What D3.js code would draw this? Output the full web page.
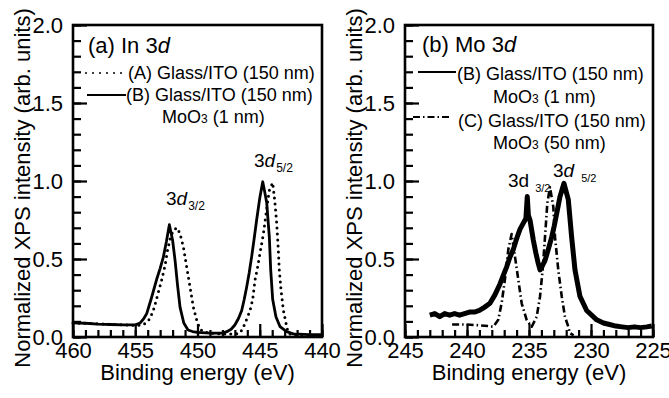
<!DOCTYPE html>
<html>
<head>
  <meta charset="utf-8">
  <title>XPS In 3d / Mo 3d</title>
  <script src="https://d3js.org/d3.v7.min.js"></script>
  <style>
    body { margin: 0; background: #fff; }
    text { font-family: "Liberation Sans", Arial, sans-serif; fill: #000; }
  </style>
</head>
<body>
<script>
// ---- data: [binding energy (eV), normalized intensity] ----
// (a) In 3d, (A) Glass/ITO
var inA = [
  [460, 0.09], [458, 0.085], [456, 0.078], [455, 0.075], [454.5, 0.075], [454.1, 0.09],
  [453.8, 0.12], [453.47, 0.19], [453.2, 0.27], [452.88, 0.365], [452.6, 0.46], [452.42, 0.55],
  [452.2, 0.63], [451.94, 0.686], [451.62, 0.70], [451.4, 0.66], [451.14, 0.58], [450.87, 0.45],
  [450.6, 0.32], [450.33, 0.19], [450.07, 0.11], [449.8, 0.05], [449.4, 0.03], [449, 0.025],
  [448, 0.02], [447, 0.02], [446.6, 0.024], [446.4, 0.05], [446.18, 0.088], [445.78, 0.17],
  [445.57, 0.24], [445.38, 0.365], [445.19, 0.44], [445.03, 0.515], [444.71, 0.66], [444.36, 0.87],
  [444.23, 0.94], [443.96, 0.99], [443.78, 0.86], [443.64, 0.73], [443.51, 0.56], [443.43, 0.43],
  [443.29, 0.30], [443.1, 0.17], [442.89, 0.088], [442.71, 0.024], [442.3, 0.01], [441, 0.01],
  [440, 0.01]
];
// (a) In 3d, (B) Glass/ITO + MoO3 1 nm
var inB = [
  [460, 0.09], [459, 0.088], [458, 0.083], [457, 0.08], [456, 0.078], [455, 0.078],
  [454.6, 0.09], [454.3, 0.12], [454.08, 0.15], [453.7, 0.25], [453.28, 0.37], [453.0, 0.44],
  [452.75, 0.51], [452.5, 0.61], [452.26, 0.72], [452.0, 0.62], [451.8, 0.49], [451.6, 0.33],
  [451.4, 0.19], [451.1, 0.09], [450.76, 0.045], [450.4, 0.035], [450.0, 0.03], [449, 0.025],
  [448, 0.025], [447.65, 0.034], [447.3, 0.05], [447.0, 0.077], [446.7, 0.12], [446.45, 0.17],
  [446.25, 0.24], [446.05, 0.32], [445.85, 0.41], [445.65, 0.515], [445.45, 0.63], [445.25, 0.75],
  [445.0, 0.89], [444.76, 0.995], [444.6, 0.93], [444.44, 0.86], [444.23, 0.64], [444.12, 0.43],
  [443.96, 0.24], [443.7, 0.13], [443.37, 0.066], [442.84, 0.034], [442.3, 0.02], [441, 0.015],
  [440, 0.015]
];
// (b) Mo 3d, (B) Glass/ITO + MoO3 1 nm
var moB = [
  [243.0, 0.14], [242.6, 0.15], [242.2, 0.13], [241.8, 0.15], [241.4, 0.14], [241.0, 0.15],
  [240.6, 0.14], [240.2, 0.15], [239.8, 0.16], [239.4, 0.16], [239.0, 0.17], [238.6, 0.19],
  [238.15, 0.216], [237.75, 0.27], [237.34, 0.34], [237.05, 0.40], [236.8, 0.45], [236.55, 0.51],
  [236.27, 0.56], [236.0, 0.63], [235.73, 0.69], [235.46, 0.73], [235.25, 0.76], [235.14, 0.90],
  [235.05, 0.78], [234.92, 0.75], [234.65, 0.62], [234.45, 0.54], [234.25, 0.47], [234.11, 0.43],
  [233.9, 0.46], [233.71, 0.49], [233.45, 0.56], [233.17, 0.64], [232.97, 0.71], [232.77, 0.79],
  [232.5, 0.90], [232.18, 0.985], [231.83, 0.88], [231.56, 0.64], [231.29, 0.43], [230.89, 0.26],
  [230.35, 0.17], [229.54, 0.11], [229.0, 0.09], [228.5, 0.08], [228.0, 0.07], [227.5, 0.065],
  [227, 0.06], [226.5, 0.065], [226, 0.06], [225.5, 0.065], [225.1, 0.07]
];
// (b) Mo 3d, (C) Glass/ITO + MoO3 50 nm
var moC = [
  [241.2, 0.08], [240, 0.08], [239, 0.075], [238.3, 0.07], [237.88, 0.066], [237.48, 0.11],
  [237.2, 0.22], [236.94, 0.37], [236.67, 0.56], [236.4, 0.66], [236.13, 0.515], [235.86, 0.365],
  [235.59, 0.216], [235.19, 0.11], [234.78, 0.066], [234.38, 0.13], [234.11, 0.26], [233.9, 0.43],
  [233.71, 0.64], [233.52, 0.86], [233.31, 0.96], [233.04, 0.835], [232.9, 0.64], [232.64, 0.43],
  [232.36, 0.26], [232.1, 0.13], [231.83, 0.066], [231.7, 0.025], [231.4, 0.01]
];

var yTicks = [0, 0.5, 1.0, 1.5, 2.0];
var xTicksA = [460, 455, 450, 445, 440];
var xTicksB = [245, 240, 235, 230, 225];

var width = 669, height = 398;
var plotTop = 25, plotBottom = 337;

var svg = d3.select("body").append("svg").attr("width", width).attr("height", height);

var dotted = "0 6", dashdot = "7 3 1.5 3";

function panel(opt) {
  var x = d3.scaleLinear().domain(opt.xdom).range([opt.left, opt.right]);
  var y = d3.scaleLinear().domain([0, 2]).range([plotBottom, plotTop]);
  var g = svg.append("g");

  // minor ticks
  g.append("g").attr("transform", "translate(0," + plotBottom + ")")
    .call(d3.axisBottom(x).tickValues(d3.range(d3.min(opt.xdom), d3.max(opt.xdom) + 1, 1))
      .tickSizeInner(-7).tickSizeOuter(0).tickFormat(""));
  g.append("g").attr("transform", "translate(" + opt.left + ",0)")
    .call(d3.axisLeft(y).tickValues(d3.range(0, 2.01, 0.1))
      .tickSizeInner(-8).tickSizeOuter(0).tickFormat(""));
  // major ticks + labels
  g.append("g").attr("transform", "translate(0," + plotBottom + ")")
    .call(d3.axisBottom(x).tickValues(opt.xticks).tickSizeInner(-13).tickSizeOuter(0)
      .tickPadding(5).tickFormat(d3.format("d")));
  g.append("g").attr("transform", "translate(" + opt.left + ",0)")
    .call(d3.axisLeft(y).tickValues(yTicks).tickSizeInner(-14).tickSizeOuter(0)
      .tickPadding(10).tickFormat(d3.format(".1f")));
  g.selectAll(".tick line").attr("stroke", "#000").attr("stroke-width", 2.2);
  g.selectAll(".tick text").attr("font-size", 22).attr("font-family", "Liberation Sans, Arial, sans-serif").attr("fill", "#000");
  g.selectAll(".domain").remove();

  // frame
  g.append("rect").attr("x", opt.left).attr("y", plotTop)
    .attr("width", opt.right - opt.left).attr("height", plotBottom - plotTop)
    .attr("fill", "none").attr("stroke", "#000").attr("stroke-width", 2.6);

  var line = d3.line().x(function(d) { return x(d[0]); }).y(function(d) { return y(d[1]); });

  opt.series.forEach(function(s) {
    g.append("path").datum(s.data)
      .attr("fill", "none").attr("stroke", "#000")
      .attr("stroke-width", s.w).attr("stroke-dasharray", s.dash)
      .attr("stroke-linecap", s.cap).attr("stroke-linejoin", "round")
      .attr("d", line);
  });

  // axis titles
  g.append("text")
    .attr("transform", "translate(" + (opt.left - 43) + "," + ((plotTop + plotBottom) / 2 + 7) + ") rotate(-90)")
    .attr("text-anchor", "middle").attr("font-size", 22)
    .text("Normalized XPS intensity (arb. units)");
  g.append("text")
    .attr("x", (opt.left + opt.right) / 2).attr("y", 380)
    .attr("text-anchor", "middle").attr("font-size", 22)
    .text("Binding energy (eV)");
  return g;
}

function legendKey(g, x1, x2, yy, dash, cap) {
  g.append("line").attr("x1", x1).attr("x2", x2).attr("y1", yy).attr("y2", yy)
    .attr("stroke", "#000").attr("stroke-width", 2).attr("stroke-dasharray", dash)
    .attr("stroke-linecap", cap);
}
function moo3(g, x0, y0, rest) {
  var t = g.append("text").attr("x", x0).attr("y", y0).attr("font-size", 18);
  t.append("tspan").text("MoO");
  t.append("tspan").attr("font-size", 12).text("3");
  t.append("tspan").text(" " + rest);
}
function peakLabel(g, x0, y0, sub, italic, subSize, gap) {
  var t = g.append("text").attr("x", x0).attr("y", y0).attr("font-size", 19);
  t.append("tspan").text("3");
  t.append("tspan").attr("font-style", italic ? "italic" : "normal").text("d");
  t.append("tspan").attr("font-size", subSize).attr("dx", gap).attr("dy", 5).text(sub);
}

// ---- panel (a) ----
var ga = panel({
  left: 73, right: 322, xdom: [460, 440], xticks: xTicksA,
  series: [
    { data: inA, w: 3, dash: dotted, cap: "round" },
    { data: inB, w: 2.8, dash: null, cap: "butt" }
  ]
});
var ta = ga.append("text").attr("x", 88).attr("y", 53).attr("font-size", 22);
ta.append("tspan").text("(a) In 3");
ta.append("tspan").attr("font-style", "italic").text("d");
legendKey(ga, 86, 122, 73, "0 7", "round");
ga.append("text").attr("x", 128).attr("y", 79).attr("font-size", 18).text("(A) Glass/ITO (150 nm)");
legendKey(ga, 87, 126, 95, null, "butt");
ga.append("text").attr("x", 126).attr("y", 101).attr("font-size", 18).text("(B) Glass/ITO (150 nm)");
moo3(ga, 162, 123, "(1 nm)");
peakLabel(ga, 166, 205, "3/2", true, 12, 1);
peakLabel(ga, 254, 167, "5/2", true, 12, 1);

// ---- panel (b) ----
var gb = panel({
  left: 405, right: 653, xdom: [245, 225], xticks: xTicksB,
  series: [
    { data: moC, w: 2.6, dash: dashdot, cap: "butt" },
    { data: moB, w: 5, dash: null, cap: "butt" }
  ]
});
var tb = gb.append("text").attr("x", 422).attr("y", 52).attr("font-size", 22);
tb.append("tspan").text("(b) Mo 3");
tb.append("tspan").attr("font-style", "italic").text("d");
legendKey(gb, 418, 456, 72, null, "butt");
gb.append("text").attr("x", 457).attr("y", 80).attr("font-size", 18).text("(B) Glass/ITO (150 nm)");
moo3(gb, 493, 103, "(1 nm)");
legendKey(gb, 413, 451, 117, dashdot, "butt");
gb.append("text").attr("x", 458).attr("y", 127).attr("font-size", 18).text("(C) Glass/ITO (150 nm)");
moo3(gb, 493, 149, "(50 nm)");
peakLabel(gb, 508, 187, "3/2", false, 11, 6);
peakLabel(gb, 553, 177, "5/2", true, 11, 7);
</script>
</body>
</html>
